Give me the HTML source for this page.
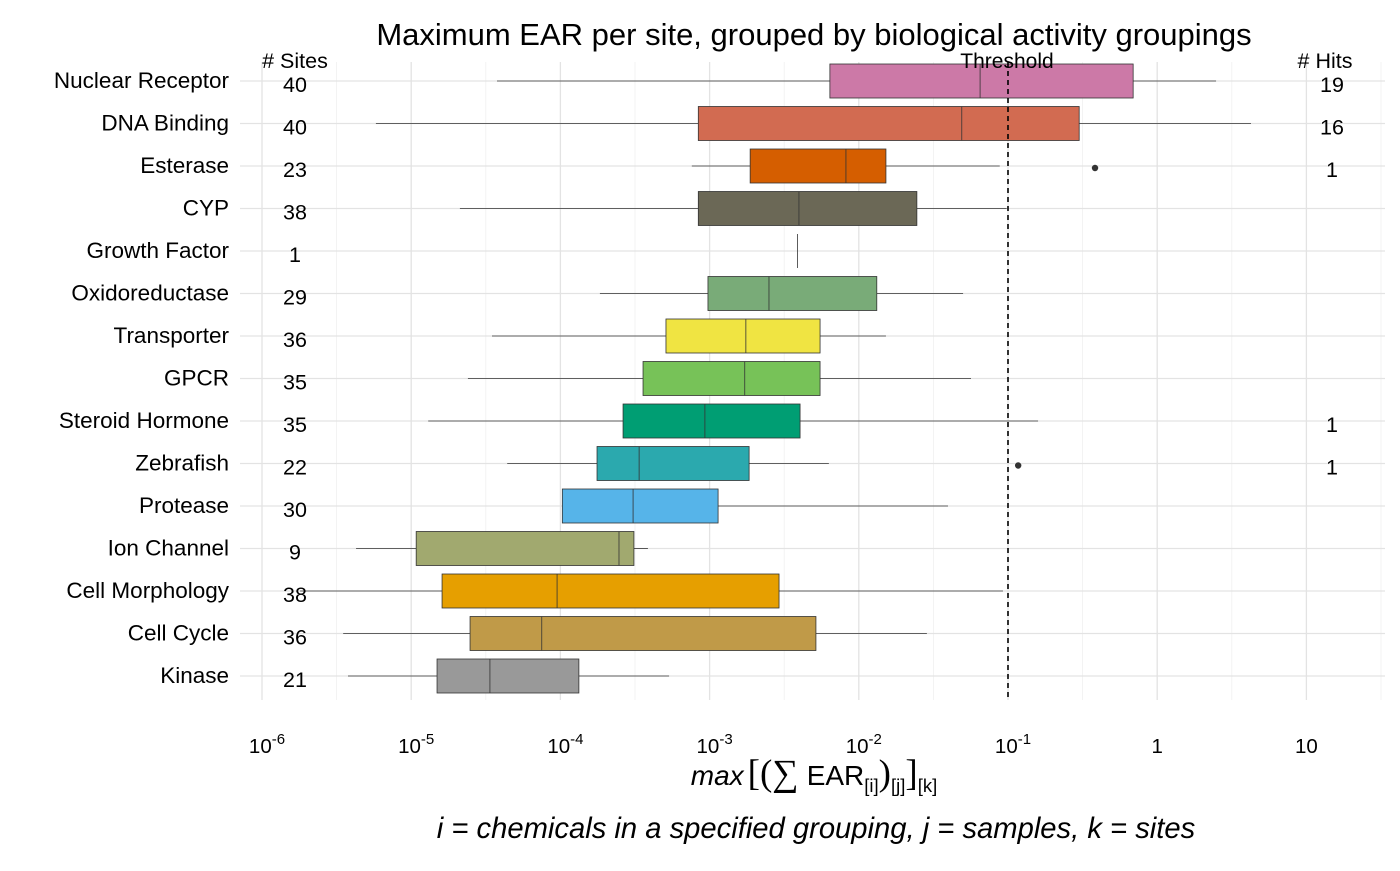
<!DOCTYPE html>
<html><head><meta charset="utf-8"><style>
body{margin:0;background:#fff}
svg text{font-family:"Liberation Sans",Arial,sans-serif}
</style></head><body>
<svg id="chart" width="1400" height="866" viewBox="0 0 1400 866" xmlns="http://www.w3.org/2000/svg">
<text x="814" y="45" font-size="31" text-anchor="middle">Maximum EAR per site, grouped by biological activity groupings</text>
<g id="grid"></g><g id="boxes"></g><g id="labels"></g><g id="xaxis"></g>
<text x="295" y="68" font-size="21.5" text-anchor="middle"># Sites</text>
<text x="1325" y="68" font-size="21.5" text-anchor="middle"># Hits</text>
<text x="1007" y="68" font-size="21" text-anchor="middle">Threshold</text>
<text x="814" y="785" font-size="28" text-anchor="middle"><tspan font-style="italic">max</tspan><tspan font-size="37" font-family="Liberation Serif" dx="4">[(∑</tspan><tspan dx="8">EAR</tspan><tspan font-size="18.5" dy="7">[i]</tspan><tspan font-size="37" font-family="Liberation Serif" dy="-7">)</tspan><tspan font-size="18.5" dy="7">[j]</tspan><tspan font-size="37" font-family="Liberation Serif" dy="-7">]</tspan><tspan font-size="18.5" dy="7">[k]</tspan></text>
<text x="816" y="838" font-size="29.2" font-style="italic" text-anchor="middle">i = chemicals in a specified grouping, j = samples, k = sites</text>
</svg>
<script>
const categories=["Nuclear Receptor","DNA Binding","Esterase","CYP","Growth Factor","Oxidoreductase","Transporter","GPCR","Steroid Hormone","Zebrafish","Protease","Ion Channel","Cell Morphology","Cell Cycle","Kinase"];
const whiskerLow=[3.76e-5,5.8e-6,7.6e-4,2.12e-5,3.88e-3,1.84e-4,3.48e-5,2.4e-5,1.3e-5,4.4e-5,1.03e-4,4.27e-6,1.8e-6,3.5e-6,3.77e-6];
const q1=[6.4e-3,8.4e-4,1.87e-3,8.4e-4,3.88e-3,9.75e-4,5.1e-4,3.58e-4,2.63e-4,1.76e-4,1.03e-4,1.08e-5,1.61e-5,2.48e-5,1.49e-5];
const median=[0.065,0.049,8.2e-3,3.97e-3,3.88e-3,2.5e-3,1.75e-3,1.72e-3,9.3e-4,3.37e-4,3.07e-4,2.47e-4,9.5e-5,7.5e-5,3.37e-5];
const q3=[0.69,0.30,0.0152,0.0245,3.88e-3,0.0132,5.5e-3,5.5e-3,4.04e-3,1.84e-3,1.14e-3,3.11e-4,2.92e-3,5.16e-3,1.33e-4];
const whiskerHigh=[2.48,4.25,0.088,0.098,3.88e-3,0.05,0.0152,0.0565,0.159,6.3e-3,0.0396,3.86e-4,0.0925,0.0286,5.35e-4];
const outliers=[[],[],[0.383],[],[],[],[],[],[],[0.117],[],[],[],[],[]];
const sites=[40,40,23,38,1,29,36,35,35,22,30,9,38,36,21];
const hits=[19,16,1,"","","","","",1,1,"","","","",""];
const colors=["#CC79A7","#D26B51","#D55E00","#6B6856","#888","#79AB78","#F0E442","#77C258","#009E73","#2BA9AE","#56B4E9","#A1A96F","#E69F00","#C09A48","#999999"];
const tickExp=[-6,-5,-4,-3,-2,-1,0,1];
const tickLabels=["10|-6","10|-5","10|-4","10|-3","10|-2","10|-1","1","10"];
const threshold=0.1;
const NS="http://www.w3.org/2000/svg";
const X=v=>262+(Math.log10(v)+6)*149.2;
const Y=i=>81+i*42.5;
const pTop=62,pBottom=700,pLeft=240,pRight=1385;
function mk(tag,attrs,parent){const e=document.createElementNS(NS,tag);for(const k in attrs)e.setAttribute(k,attrs[k]);parent.appendChild(e);return e;}
const grid=document.getElementById('grid'),boxes=document.getElementById('boxes'),labels=document.getElementById('labels'),xaxis=document.getElementById('xaxis');
for(let e=-6.5;e<=1.5;e+=0.5){const x=X(Math.pow(10,e));if(x<pLeft||x>pRight)continue;
 const l=mk('line',{x1:x,x2:x,y1:pTop,y2:pBottom,stroke:Number.isInteger(e)?'#e3e3e3':'#f0f0f0','stroke-width':Number.isInteger(e)?1.3:0.8},grid);
 
 }
categories.forEach((c,i)=>{const l=mk('line',{x1:pLeft,x2:pRight,y1:Y(i),y2:Y(i),stroke:'#e3e3e3','stroke-width':1.3},grid);
 
 });
categories.forEach((c,i)=>{const y=Y(i),h=17;
 const g=mk('g',{},boxes);
 
 
 mk('line',{x1:X(whiskerLow[i]),x2:X(q1[i]),y1:y,y2:y,stroke:'#333','stroke-width':0.8},g);
 mk('line',{x1:X(q3[i]),x2:X(whiskerHigh[i]),y1:y,y2:y,stroke:'#333','stroke-width':0.8},g);
 if(q3[i]>q1[i])mk('rect',{x:X(q1[i]),y:y-h,width:X(q3[i])-X(q1[i]),height:2*h,fill:colors[i],stroke:'#333','stroke-width':0.8},g);
 mk('line',{x1:X(median[i]),x2:X(median[i]),y1:y-h,y2:y+h,stroke:'#333','stroke-width':0.8},g);
 outliers[i].forEach(o=>{const d=mk('circle',{cx:X(o),cy:y+2,r:3.2,fill:'#333'},g);
  
  });
 const t=mk('text',{x:229,y:y+7,'font-size':22.5,'text-anchor':'end'},labels);t.textContent=c;
 
 
 const s=mk('text',{x:295,y:y+11,'font-size':21.5,'text-anchor':'middle'},labels);s.textContent=sites[i];
 
 
 if(hits[i]!==""){const hh=mk('text',{x:1332,y:y+11,'font-size':21.5,'text-anchor':'middle'},labels);hh.textContent=hits[i];
 
 }
});
const th=mk('line',{x1:X(threshold),x2:X(threshold),y1:pTop,y2:pBottom,stroke:'#000','stroke-width':1.6,'stroke-dasharray':'5,4'},boxes);


tickExp.forEach((e,i)=>{const x=X(Math.pow(10,e));const parts=tickLabels[i].split('|');
 const t=mk('text',{x:x,y:753,'font-size':20.5,'text-anchor':'middle'},xaxis);
 
 
 if(parts.length>1){const a=mk('tspan',{},t);a.textContent=parts[0];const b=mk('tspan',{'font-size':15,dy:-9},t);b.textContent=parts[1];t.setAttribute('x',x+5);}
 else t.textContent=parts[0];});
</script>
</body></html>
